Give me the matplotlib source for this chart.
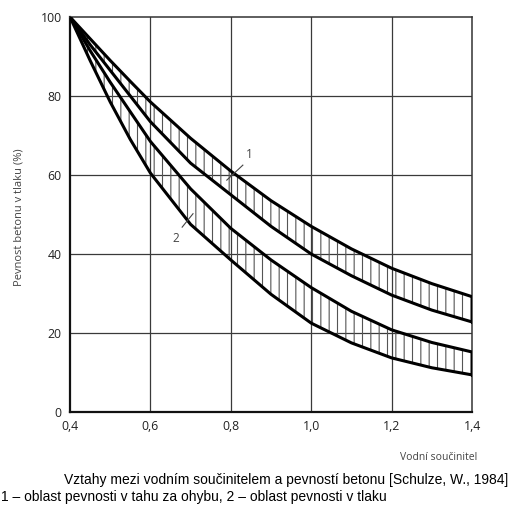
import matplotlib
matplotlib.use("Agg")
import matplotlib.pyplot as plt
import numpy as np

# water/cement ratio and strength (% of compressive strength at w/c 0.4)
vc = [0.4, 0.45, 0.5, 0.55, 0.6, 0.7, 0.8, 0.9, 1.0, 1.1, 1.2, 1.3, 1.4]
band1_upper = [100, 94.5, 89.0, 83.7, 78.5, 69.3, 61.0, 53.5, 47.0, 41.3, 36.4, 32.5, 29.2]
band1_lower = [100, 93.0, 86.5, 80.0, 73.5, 63.0, 55.0, 47.0, 40.0, 34.5, 29.6, 25.8, 22.8]
band2_upper = [100, 91.5, 83.5, 76.0, 68.5, 56.5, 46.5, 38.5, 31.5, 25.5, 20.8, 17.6, 15.2]
band2_lower = [100, 89.0, 78.5, 69.0, 60.5, 47.5, 38.5, 29.8, 22.5, 17.5, 13.7, 11.2, 9.4]

x_ticks = [0.4, 0.6, 0.8, 1.0, 1.2, 1.4]
x_ticklabels = ["0,4", "0,6", "0,8", "1,0", "1,2", "1,4"]
y_ticks = [0, 20, 40, 60, 80, 100]

plt.rcParams['hatch.linewidth'] = 0.8

fig = plt.figure(figsize=(5.10, 5.13), dpi=100)
ax = fig.add_axes([70 / 510, 101 / 513, 402 / 510, 395 / 513])

ax.set_xlim(0.4, 1.4)
ax.set_ylim(0, 100)

# grid
for gx in x_ticks[1:-1]:
    ax.axvline(gx, color="#3a3a3a", lw=0.9, zorder=1)
for gy in y_ticks[1:-1]:
    ax.axhline(gy, color="#3a3a3a", lw=0.9, zorder=1)

# hatched bands
for lo, hi in [(band1_lower, band1_upper), (band2_lower, band2_upper)]:
    ax.fill_between(vc, lo, hi, facecolor="none", edgecolor="#555555",
                    hatch="||", linewidth=0, zorder=2)
    ax.plot(vc, hi, color="black", lw=2.2, zorder=3, solid_capstyle="round")
    ax.plot(vc, lo, color="black", lw=2.2, zorder=3, solid_capstyle="round")
    ax.plot([vc[-1], vc[-1]], [lo[-1], hi[-1]], color="black", lw=2.2, zorder=3)

# curve labels
ax.plot([0.79, 0.83], [58.7, 62.5], color="#444444", lw=0.8, zorder=4)
ax.text(0.838, 63.5, "1", fontsize=8.5, color="#444444", family="Open Sans",
        ha="left", va="bottom")
ax.plot([0.679, 0.706], [46.8, 50.2], color="#444444", lw=0.8, zorder=4)
ax.text(0.672, 45.5, "2", fontsize=8.5, color="#444444", family="Open Sans",
        ha="right", va="top")

ax.set_xticks(x_ticks)
ax.set_xticklabels(x_ticklabels)
ax.set_yticks(y_ticks)
ax.tick_params(length=0, labelsize=8.8, colors="#222222", pad=6)
for lab in ax.get_xticklabels() + ax.get_yticklabels():
    lab.set_family("Open Sans")

for side in ["left", "bottom"]:
    ax.spines[side].set_linewidth(1.6)
    ax.spines[side].set_color("#111111")
for side in ["top", "right"]:
    ax.spines[side].set_linewidth(1.1)
    ax.spines[side].set_color("#333333")

# axis titles
fig.text(19 / 510, 1 - 217 / 513, "Pevnost betonu v tlaku (%)", rotation=90,
         ha="center", va="center", fontsize=8, color="#444444", family="Open Sans")
fig.text(477 / 510, 1 - 457 / 513, "Vodní součinitel", ha="right", va="center",
         fontsize=7.5, color="#444444", family="Open Sans")

# caption
fig.text(508 / 510, 1 - 480 / 513,
         "Vztahy mezi vodním součinitelem a pevností betonu [Schulze, W., 1984]",
         ha="right", va="center", fontsize=10, color="black", family="Liberation Sans")
fig.text(0.002, 1 - 497 / 513,
         "1 – oblast pevnosti v tahu za ohybu, 2 – oblast pevnosti v tlaku",
         ha="left", va="center", fontsize=10, color="black", family="Liberation Sans")

fig.savefig("out.png", dpi=100)
